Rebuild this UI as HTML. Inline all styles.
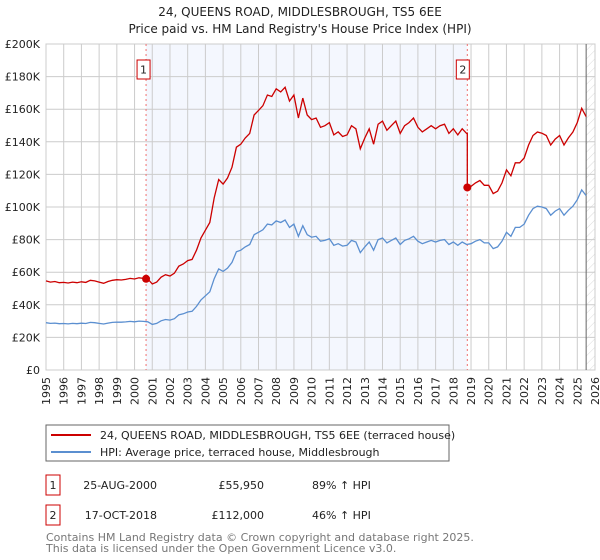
<!DOCTYPE html>
<html><head><meta charset="utf-8"><style>
body{margin:0;background:#fff;}
svg{display:block;font-family:"DejaVu Sans","Liberation Sans",sans-serif;}
</style></head><body>
<svg id="c" width="600" height="560">
<defs><pattern id="hatch" width="6" height="6" patternUnits="userSpaceOnUse" patternTransform="rotate(45)"><line x1="0" y1="0" x2="0" y2="6" stroke="#ccc" stroke-width="0.7"/></pattern></defs>
<text x="300" y="16" text-anchor="middle" font-size="12" fill="#222">24, QUEENS ROAD, MIDDLESBROUGH, TS5 6EE</text>
<text x="300" y="33" text-anchor="middle" font-size="12" fill="#222">Price paid vs. HM Land Registry's House Price Index (HPI)</text>
<g id="plot"></g>
<g>
<rect x="46" y="425" width="403" height="36" fill="#fff" stroke="#666"/>
<line x1="51" y1="435" x2="91" y2="435" stroke="#cc0000" stroke-width="2"/>
<text x="100" y="439" font-size="11" fill="#222">24, QUEENS ROAD, MIDDLESBROUGH, TS5 6EE (terraced house)</text>
<line x1="51" y1="452" x2="91" y2="452" stroke="#5b8fd0" stroke-width="2"/>
<text x="100" y="456" font-size="11" fill="#222">HPI: Average price, terraced house, Middlesbrough</text>
</g>
<g font-size="11" fill="#222">
<rect x="46" y="475" width="14" height="20" fill="#fff" stroke="#cc0000"/>
<text x="53" y="489" text-anchor="middle">1</text>
<text x="157" y="489" text-anchor="end">25-AUG-2000</text>
<text x="264" y="489" text-anchor="end">£55,950</text>
<text x="312" y="489">89% ↑ HPI</text>
<rect x="46" y="505" width="14" height="20" fill="#fff" stroke="#cc0000"/>
<text x="53" y="519" text-anchor="middle">2</text>
<text x="157" y="519" text-anchor="end">17-OCT-2018</text>
<text x="264" y="519" text-anchor="end">£112,000</text>
<text x="312" y="519">46% ↑ HPI</text>
</g>
<text x="46" y="541" font-size="11" fill="#777">Contains HM Land Registry data © Crown copyright and database right 2025.</text>
<text x="46" y="552" font-size="11" fill="#777">This data is licensed under the Open Government Licence v3.0.</text>
</svg>
<script>
const startYear = 1995;
const hpiK = [29,28.6,28.8,28.4, 28.5,28.3,28.6,28.4, 28.7,28.5,29.2,29.0, 28.6,28.2,28.8,29.2,
29.4,29.3,29.5,29.8, 29.6,30.0,29.8,29.6, 28.0,28.6,30.2,31.0, 30.6,31.5,33.8,34.5,
35.6,36.0,39.0,43.0, 45.5,48.0,56.0,62.0, 60.5,62.5,66.0,72.5, 73.5,75.5,77.0,83.0,
84.5,86.0,89.5,89.0, 91.5,90.5,92.0,87.5, 89.5,82.0,88.5,83.0, 81.5,82.0,79.0,79.5,
80.5,76.5,77.5,76.0, 76.5,79.5,78.5,72.0, 75.5,78.5,73.5,80.0, 81.0,78.0,79.5,81.0,
77.0,79.5,80.5,82.0, 79.0,77.5,78.5,79.5, 78.5,79.5,80.0,77.0, 78.5,76.5,78.5,77.0,
77.5,79.0,80.0,78.0, 78.0,74.5,75.5,79.0, 84.5,82.0,87.5,87.5, 89.5,95.0,99.0,100.5,
100,99.0,95.0,97.5, 99.0,95.0,98.0,100.5, 104.5,110.5,107.0];
const saleYears = [2000.65, 2018.79];
const salePrices = [55950, 112000];
const saleLabels = ["1","2"];
const yTicks = [0,20000,40000,60000,80000,100000,120000,140000,160000,180000,200000];
const yTickLabels = ["£0","£20K","£40K","£60K","£80K","£100K","£120K","£140K","£160K","£180K","£200K"];
const xYears = [1995,1996,1997,1998,1999,2000,2001,2002,2003,2004,2005,2006,2007,2008,2009,2010,2011,2012,2013,2014,2015,2016,2017,2018,2019,2020,2021,2022,2023,2024,2025,2026];

const L=46,R=595,T=44,B=370,NS="http://www.w3.org/2000/svg";
const xs=y=>L+(y-1995)*(R-L)/31;
const ys=v=>B-v/200000*(B-T);
const g=document.getElementById('plot');
function mk(t,a){const e=document.createElementNS(NS,t);for(const k in a)e.setAttribute(k,a[k]);g.appendChild(e);return e;}
const hyr=i=>startYear+i*0.25;
const hpiAt=y=>{const f=(y-startYear)/0.25,i=Math.max(0,Math.min(hpiK.length-2,Math.floor(f)));const t=f-i;return (hpiK[i]*(1-t)+hpiK[i+1]*t)*1000;};
const lastYear=hyr(hpiK.length-1);

let e=mk('rect',{x:xs(saleYears[0]),y:T,width:xs(saleYears[1])-xs(saleYears[0]),height:B-T,fill:'#f4f7fe'});


e=mk('rect',{x:xs(lastYear),y:T,width:R-xs(lastYear),height:B-T,fill:'url(#hatch)'});


xYears.forEach(y=>{
 const l=mk('line',{x1:xs(y),x2:xs(y),y1:T,y2:B,stroke:'#ccc','stroke-width':1});
 
 
 const t=mk('text',{x:0,y:0,'font-size':11,fill:'#222','text-anchor':'end',transform:`translate(${xs(y)+4},${B+7}) rotate(-90)`});
 t.textContent=y;
 
 
});
yTicks.forEach((v,i)=>{
 const l=mk('line',{x1:L,x2:R,y1:ys(v),y2:ys(v),stroke:'#ccc','stroke-width':1});
 
 
 const t=mk('text',{x:40,y:ys(v)+4,'font-size':11,fill:'#222','text-anchor':'end'});
 t.textContent=yTickLabels[i];
 
 
});
e=mk('rect',{x:L,y:T,width:R-L,height:B-T,fill:'none',stroke:'#ccc'});


e=mk('line',{x1:xs(lastYear),x2:xs(lastYear),y1:T,y2:B,stroke:'#666','stroke-width':1});


saleYears.forEach((y,i)=>{
 const l=mk('line',{x1:xs(y),x2:xs(y),y1:T,y2:B,stroke:'#f07070','stroke-width':1,'stroke-dasharray':'2,3'});
 
 
 const bx=xs(y)-(i==0?9:11);
 const r=mk('rect',{x:bx,y:60,width:13,height:19,fill:'#fff',stroke:'#cc0000'});
 
 
 const t=mk('text',{x:bx+6.5,y:73.5,'font-size':11,fill:'#222','text-anchor':'middle'});
 t.textContent=saleLabels[i];
 
 
});
let d='';hpiK.forEach((v,i)=>{d+=(i?'L':'M')+xs(hyr(i)).toFixed(1)+','+ys(v*1000).toFixed(1);});
e=mk('path',{d:d,fill:'none',stroke:'#5b8fd0','stroke-width':1.3});


const r1=salePrices[0]/hpiAt(saleYears[0]),r2=salePrices[1]/hpiAt(saleYears[1]);
let pts=[];
hpiK.forEach((v,i)=>{const y=hyr(i);if(y<saleYears[1])pts.push([y,v*1000*r1]);});
pts.push([saleYears[1],hpiAt(saleYears[1])*r1]);
pts.push([saleYears[1],salePrices[1]]);
hpiK.forEach((v,i)=>{const y=hyr(i);if(y>saleYears[1])pts.push([y,v*1000*r2]);});
d='';pts.forEach((p,i)=>{d+=(i?'L':'M')+xs(p[0]).toFixed(1)+','+ys(p[1]).toFixed(1);});
e=mk('path',{d:d,fill:'none',stroke:'#cc0000','stroke-width':1.3});


saleYears.forEach((y,i)=>{
 const c=mk('circle',{cx:xs(y),cy:ys(salePrices[i]),r:4,fill:'#cc0000'});
 
 
});
</script>
</body></html>
